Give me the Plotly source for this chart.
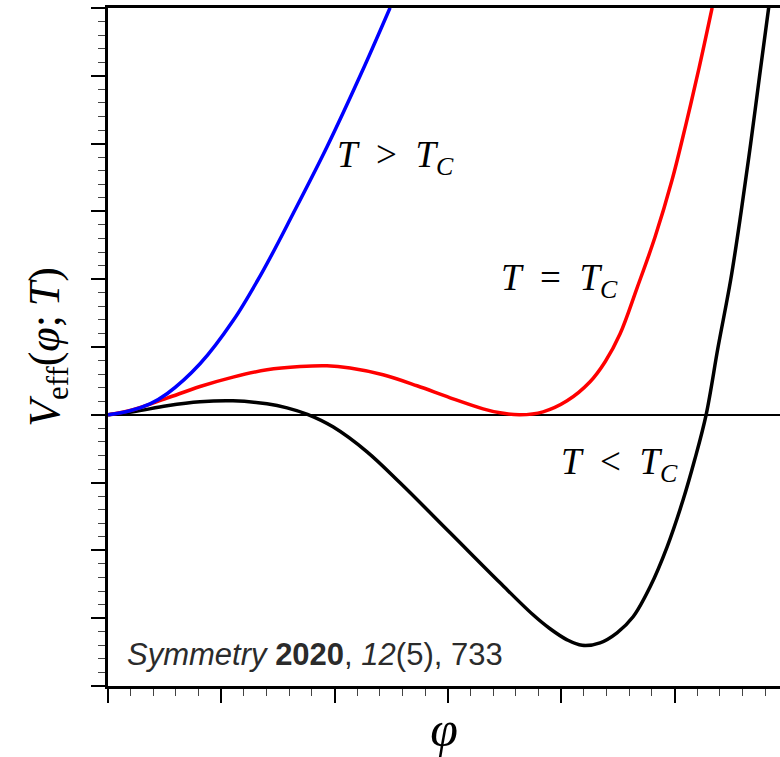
import plotly.graph_objects as go

# Data (phi and V in major-tick units)
phi_high = [0.0, 0.194, 0.371, 0.521, 0.812, 1.103, 1.368, 1.633, 1.933, 2.233, 2.489]
v_high = [0.0, 0.059, 0.162, 0.310, 0.752, 1.386, 2.124, 2.965, 3.953, 5.029, 6.003]

phi_crit = [0.0, 0.221, 0.521, 0.812, 1.103, 1.403, 1.695, 1.933, 2.136, 2.427, 2.727, 3.019,
            3.310, 3.460, 3.636, 3.839, 4.051, 4.254, 4.387, 4.519, 4.669, 4.828, 4.978, 5.101, 5.216, 5.331]
v_crit = [0.0, 0.074, 0.246, 0.417, 0.556, 0.664, 0.712, 0.723, 0.689, 0.590, 0.428, 0.251,
          0.088, 0.029, 0.0, 0.044, 0.206, 0.487, 0.782, 1.195, 1.873, 2.625, 3.466, 4.292, 5.118, 6.003]

phi_low = [0.0, 0.221, 0.521, 0.812, 1.103, 1.403, 1.580, 1.760, 1.985, 2.286, 2.577, 3.019, 3.460,
           3.751, 3.901, 4.051, 4.184, 4.342, 4.492, 4.634, 4.784, 4.934, 5.075, 5.177, 5.278, 5.384,
           5.495, 5.587, 5.671, 5.750, 5.830]
v_low = [0.0, 0.044, 0.133, 0.192, 0.206, 0.162, 0.103, 0.007, -0.177, -0.546, -1.003, -1.740, -2.478,
         -2.950, -3.156, -3.319, -3.400, -3.363, -3.215, -2.979, -2.537, -1.947, -1.254, -0.664, 0.0, 1.003,
         1.991, 2.994, 3.997, 5.000, 6.003]

labels = ["<i>T</i>\u2002>\u2002<i>T</i><sub><i>C</i></sub>",
          "<i>T</i>\u2002=\u2002<i>T</i><sub><i>C</i></sub>",
          "<i>T</i>\u2002<\u2002<i>T</i><sub><i>C</i></sub>"]
label_x = [2.0, 3.45, 3.98]
label_y = [3.80, 1.98, -0.74]

serif = "Liberation Serif, DejaVu Serif, serif"

fig = go.Figure()
fig.add_trace(go.Scatter(x=phi_low, y=v_low, mode="lines",
                         line=dict(color="black", width=3.5, shape="spline", smoothing=1.0)))
fig.add_trace(go.Scatter(x=phi_crit, y=v_crit, mode="lines",
                         line=dict(color="#ff0000", width=3.5, shape="spline", smoothing=1.0)))
fig.add_trace(go.Scatter(x=phi_high, y=v_high, mode="lines",
                         line=dict(color="#0000ff", width=3.5, shape="spline", smoothing=1.0)))

for t, x, y in zip(labels, label_x, label_y):
    fig.add_annotation(x=x, y=y, text=t, showarrow=False, xanchor="left", yanchor="middle",
                       font=dict(family=serif, size=37, color="black"))

fig.add_annotation(x=0.15, y=-3.54, xanchor="left", yanchor="middle", showarrow=False,
                   text="<i>Symmetry</i> <b>2020</b>, <i>12</i>(5), 733",
                   font=dict(family="Liberation Sans, Arial, sans-serif", size=31, color="#2b2b2b"))

fig.update_layout(
    width=780, height=757,
    margin=dict(l=108, r=0, t=8, b=71),
    paper_bgcolor="white", plot_bgcolor="white",
    showlegend=False,
    xaxis=dict(range=[0, 5.93], showgrid=False, zeroline=False,
               showline=True, linewidth=3, linecolor="black", mirror=True,
               ticks="outside", ticklen=14, tickwidth=2, tickcolor="black",
               tick0=0, dtick=1, showticklabels=False,
               minor=dict(ticks="outside", ticklen=7, tickwidth=1, tickcolor="#444", dtick=0.2, tick0=0),
               title=dict(text="<i>φ</i>", font=dict(family=serif, size=50, color="black"), standoff=10)),
    yaxis=dict(range=[-4, 6], showgrid=False, zeroline=True, zerolinecolor="black", zerolinewidth=1.5,
               showline=True, linewidth=3, linecolor="black",
               ticks="outside", ticklen=14, tickwidth=2, tickcolor="black",
               tick0=0, dtick=1, showticklabels=False,
               minor=dict(ticks="outside", ticklen=7, tickwidth=1, tickcolor="#444", dtick=0.2, tick0=0),
               title=dict(text="<i>V</i><sub>eff</sub>(<i>φ</i>;\u2009<i>T</i>)",
                          font=dict(family=serif, size=44, color="black"), standoff=18)),
)

fig.write_html("out.html")
